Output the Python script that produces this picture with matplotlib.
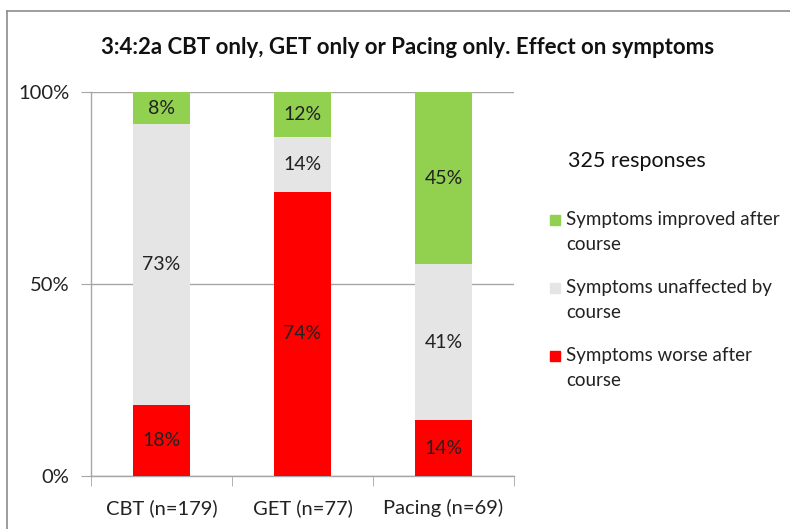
import matplotlib
matplotlib.use("Agg")
import matplotlib.pyplot as plt
from matplotlib.lines import Line2D
from matplotlib.patches import Rectangle

plt.rcParams['font.family'] = ['Lato', 'DejaVu Sans']

categories = ["CBT (n=179)", "GET (n=77)", "Pacing (n=69)"]
worse = [18.4, 74.0, 14.5]
unaffected = [73.2, 14.3, 40.6]
improved = [8.4, 11.7, 44.9]
series_names = ["Symptoms improved after\ncourse", "Symptoms unaffected by\ncourse",
                "Symptoms worse after\ncourse"]
colors = {"improved": "#92D050", "unaffected": "#E5E5E5", "worse": "#FF0000"}
yticks = [0, 50, 100]
ytick_labels = ["0%", "50%", "100%"]

fig = plt.figure(figsize=(7.9, 5.29), dpi=100)
ax = fig.add_axes([91/790, 1-476/529, (514-91)/790, (476-92)/529])

x = range(len(categories))
w = 0.4
ax.bar(x, worse, w, color=colors["worse"], zorder=3)
ax.bar(x, unaffected, w, bottom=worse, color=colors["unaffected"], zorder=3)
b2 = [a + b for a, b in zip(worse, unaffected)]
ax.bar(x, improved, w, bottom=b2, color=colors["improved"], zorder=3)

LS = 14
for i in x:
    ax.text(i, worse[i]/2, f"{round(worse[i])}%", ha="center", va="center", fontsize=LS, color="#222222", zorder=4)
    ax.text(i, worse[i] + unaffected[i]/2, f"{round(unaffected[i])}%", ha="center", va="center", fontsize=LS, color="#222222", zorder=4)
    ax.text(i, b2[i] + improved[i]/2, f"{round(improved[i])}%", ha="center", va="center", fontsize=LS, color="#222222", zorder=4)

ax.set_xlim(-0.5, 2.5)
ax.set_ylim(0, 100)
ax.set_yticks(yticks)
ax.set_yticklabels(ytick_labels, fontsize=14.5, color="#222222")
ax.set_xticks([0, 1, 2])
ax.set_xticklabels(categories, fontsize=14.5, color="#222222")
ax.set_xticks([-0.5, 0.5, 1.5, 2.5], minor=True)
ax.tick_params(axis="x", which="major", length=0, pad=16.5)
ax.tick_params(axis="x", which="minor", length=7, color="#A6A6A6", direction="out")
ax.tick_params(axis="y", length=7, color="#A6A6A6", direction="out", pad=8.5)
for s in ["top", "right"]:
    ax.spines[s].set_visible(False)
for s in ["left", "bottom"]:
    ax.spines[s].set_color("#A6A6A6")
    ax.spines[s].set_linewidth(1)
ax.grid(axis="y", color="#A6A6A6", linewidth=1, zorder=0)
ax.set_axisbelow(True)

fig.text(408/790, 1-47/529, "3:4:2a CBT only, GET only or Pacing only. Effect on symptoms",
         ha="center", va="center", fontsize=16, fontweight="bold", color="#111111")
fig.text(568/790, 1-161/529, "325 responses", ha="left", va="center", fontsize=15.5, color="#111111")

leg_colors = [colors["improved"], colors["unaffected"], colors["worse"]]
leg_y = [222, 290, 358]
for c, name, yy in zip(leg_colors, series_names, leg_y):
    fig.add_artist(Rectangle((550/790, 1-(yy+3)/529), 10/790, 10/529, color=c, transform=fig.transFigure))
    fig.text(566/790, 1-(yy-11)/529, name, ha="left", va="top", fontsize=13.5,
             color="#222222", linespacing=1.55)

fig.add_artist(Line2D([7/790, 1], [1-11/529, 1-11/529], color="#8C8C8C", linewidth=1.2, transform=fig.transFigure))
fig.add_artist(Line2D([7/790, 7/790], [0, 1-11/529], color="#8C8C8C", linewidth=1.2, transform=fig.transFigure))

fig.savefig("out.png", dpi=100)
